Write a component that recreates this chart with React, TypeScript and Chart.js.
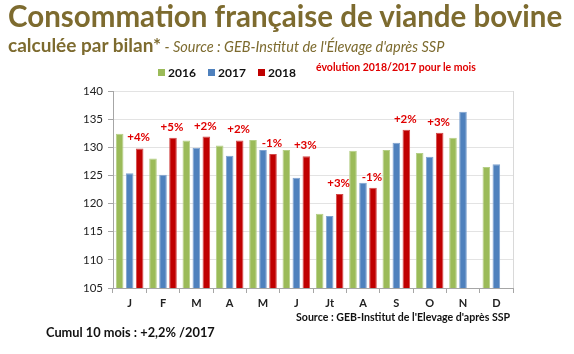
import React, { useEffect, useRef } from "react";
import { Chart, registerables } from "chart.js";

Chart.register(...registerables);

const months = ["J", "F", "M", "A", "M", "J", "Jt", "A", "S", "O", "N", "D"];
const values2016 = [132.4, 128.0, 131.2, 130.3, 131.3, 129.5, 118.2, 129.4, 129.5, 129.0, 131.7, 126.5];
const values2017 = [125.4, 125.1, 129.9, 128.5, 129.5, 124.6, 117.8, 123.7, 130.8, 128.3, 136.3, 127.0];
const values2018 = [129.8, 131.7, 131.9, 131.2, 128.8, 128.4, 121.7, 122.8, 133.1, 132.6, null, null];
const evolutionLabels = ["+4%", "+5%", "+2%", "+2%", "-1%", "+3%", "+3%", "-1%", "+2%", "+3%", "", ""];
const yTicksMin = 105;
const yTicksMax = 140;
const yStep = 5;

const FONT = "Lato, 'Open Sans', sans-serif";
const TITLE_COLOR = "#7d6b2f";

export default function App() {
  const canvasRef = useRef<HTMLCanvasElement | null>(null);

  useEffect(() => {
    document.body.style.margin = "0";
    const ctx = canvasRef.current!.getContext("2d")!;
    const labelPlugin = {
      id: "evoLabels",
      afterDatasetsDraw(chart: any) {
        const c = chart.ctx;
        const meta = chart.getDatasetMeta(2);
        c.save();
        c.fillStyle = "#e00000";
        c.font = `bold 11.5px ${FONT}`;
        c.textAlign = "center";
        c.textBaseline = "bottom";
        meta.data.forEach((el: any, i: number) => {
          const t = evolutionLabels[i];
          if (!t || values2018[i] == null) return;
          c.fillText(t, el.x - 1, el.y - 5);
        });
        // right border of the plot
        const a = chart.chartArea;
        c.strokeStyle = "#d9d9d9";
        c.lineWidth = 1;
        c.beginPath();
        c.moveTo(Math.round(a.right) + 0.5, a.top);
        c.lineTo(Math.round(a.right) + 0.5, a.bottom);
        c.stroke();
        c.restore();
      },
    };
    const chart = new Chart(ctx, {
      type: "bar",
      data: {
        labels: months,
        datasets: [
          { label: "2016", data: values2016, backgroundColor: "#9bbb59", borderColor: "#b5cf86", borderWidth: 1 },
          { label: "2017", data: values2017, backgroundColor: "#4f81bd", borderColor: "#7fa3d0", borderWidth: 1 },
          { label: "2018", data: values2018 as any, backgroundColor: "#c00000", borderColor: "#d44a4a", borderWidth: 1 },
        ],
      },
      options: {
        animation: false,
        responsive: false,
        maintainAspectRatio: false,
        layout: { padding: { left: 73, top: 91, right: 61, bottom: 46 } },
        datasets: { bar: { categoryPercentage: 0.9, barPercentage: 0.76 } },
        plugins: { legend: { display: false }, tooltip: { enabled: false }, title: { display: false } },
        scales: {
          x: {
            offset: true,
            grid: { display: true, drawOnChartArea: false, drawTicks: true, tickLength: 5, offset: true, color: "#a6a6a6", tickColor: "#a6a6a6" },
            border: { display: true, color: "#a6a6a6" },
            ticks: { color: "#222", font: { family: FONT, size: 11, weight: "bold" }, padding: 4 },
            afterFit: (s: any) => { s.height = 20; },
          },
          y: {
            min: yTicksMin,
            max: yTicksMax,
            grid: { color: "#e3e3e3", tickColor: "#a6a6a6", tickLength: 5 },
            border: { display: true, color: "#a6a6a6" },
            ticks: { stepSize: yStep, color: "#222", font: { family: FONT, size: 11.5 }, padding: 5 },
            afterFit: (s: any) => { s.width = 40; },
          },
        },
      },
      plugins: [labelPlugin],
    });
    return () => chart.destroy();
  }, []);

  const legendItem = (color: string, text: string, left: number) => (
    <div style={{ position: "absolute", left, top: 65, display: "flex", alignItems: "center", fontFamily: FONT, fontWeight: 700, fontSize: 12, color: "#111" }}>
      <span style={{ display: "inline-block", width: 7, height: 7, background: color, marginRight: 3 }} />
      {text}
    </div>
  );

  return (
    <div style={{ position: "relative", width: 574, height: 354, overflow: "hidden", background: "#fff" }}>
      <canvas ref={canvasRef} width={574} height={354} style={{ position: "absolute", left: 0, top: 0 }} />
      <div style={{ position: "absolute", left: 8, top: -2, fontFamily: FONT, fontWeight: 700, fontSize: 29.5, color: TITLE_COLOR, whiteSpace: "nowrap" }}>
        Consommation française de viande bovine
      </div>
      <div style={{ position: "absolute", left: 8, top: 34, fontFamily: FONT, color: TITLE_COLOR, whiteSpace: "nowrap", lineHeight: "22px" }}>
        <span style={{ fontWeight: 700, fontSize: 19 }}>calculée par bilan*</span>
        <span style={{ fontStyle: "italic", fontSize: 14.5 }}> - Source : GEB-Institut de l'Élevage d'après SSP</span>
      </div>
      {legendItem("#9bbb59", "2016", 158)}
      {legendItem("#4f81bd", "2017", 208)}
      {legendItem("#c00000", "2018", 258)}
      <div style={{ position: "absolute", left: 316, top: 61, fontFamily: FONT, fontWeight: 700, fontSize: 10.5, color: "#e00000", whiteSpace: "nowrap" }}>
        évolution 2018/2017 pour le mois
      </div>
      <div style={{ position: "absolute", left: 296, top: 311, fontFamily: FONT, fontWeight: 700, fontSize: 10.6, color: "#111", whiteSpace: "nowrap" }}>
        Source : GEB-Institut de l'Elevage d'après SSP
      </div>
      <div style={{ position: "absolute", left: 46, top: 324, fontFamily: FONT, fontWeight: 700, fontSize: 12.8, color: "#111", whiteSpace: "nowrap" }}>
        Cumul 10 mois : +2,2% /2017
      </div>
    </div>
  );
}
